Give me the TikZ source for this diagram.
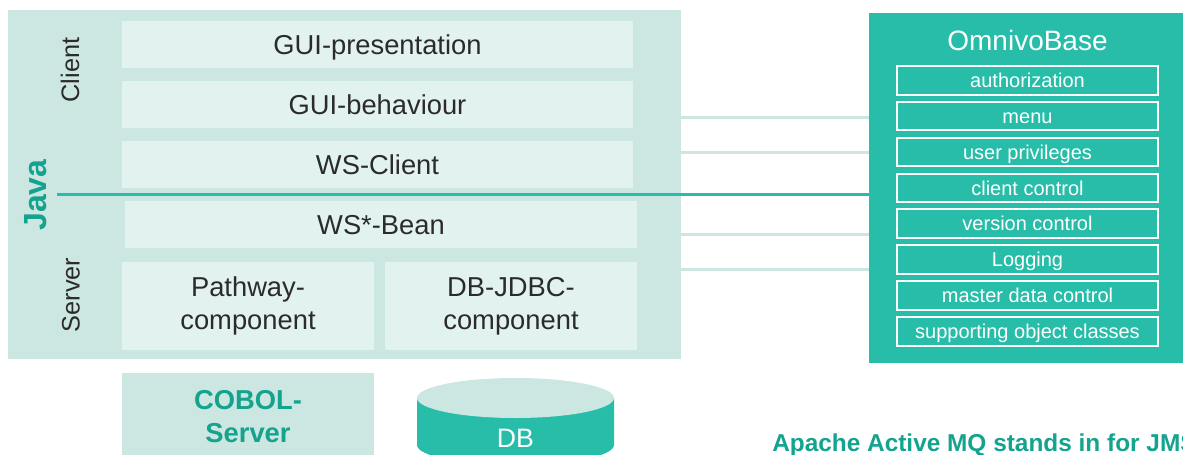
\documentclass[tikz,border=0pt]{standalone}
\usepackage{fontspec}
\setmainfont{Liberation Sans}
\usepackage{xcolor}
\usetikzlibrary{fit}
\definecolor{mintbg}{HTML}{CCE7E1}
\definecolor{partbg}{HTML}{E2F2EF}
\definecolor{teal}{HTML}{27BDA9}
\definecolor{darkteal}{HTML}{14A38E}
\definecolor{partfg}{HTML}{2B2B2B}

\begin{document}
\begin{tikzpicture}[x=0.75pt,y=-0.75pt,
  layer/.style={fill=mintbg,inner sep=0pt},
  part/.style={fill=partbg,inner sep=0pt},
  parttext/.style={text=partfg,align=center,inner sep=0pt,
    font=\fontsize{20.5}{25}\selectfont},
  oneline/.style={text height=14.8pt,text depth=0pt},
  side/.style={rotate=90,text=partfg,font=\fontsize{19}{22}\selectfont},
  item/.style={draw=white,line width=1.5pt,inner sep=0pt},
  itemtext/.style={text=white,inner sep=0pt,text height=10.8pt,text depth=0pt,
    font=\fontsize{15}{17}\selectfont},
  link/.style={mintbg,line width=2.25pt},
  javaline/.style={teal,line width=2.25pt}]
\clip (0,0) rectangle (1183,454);
% java box
\node[layer,fit={(8,10) (681,359)}] (jvm) {};
\node[part,fit={(122,21) (633,68)},label={[parttext,oneline]center:GUI-presentation}] (guipres) {};
\node[part,fit={(122,81) (633,128)},label={[parttext,oneline]center:GUI-behaviour}] (guibeh) {};
\node[part,fit={(122,141) (633,188)},label={[parttext,oneline]center:WS-Client}] (wsclient) {};
\node[part,fit={(125,201) (637,248)},label={[parttext,oneline]center:WS*-Bean}] (wsbean) {};
\node[part,fit={(122,262) (374,350)},label={[parttext]center:Pathway-\\component}] (pathway) {};
\node[part,fit={(385,262) (637,350)},label={[parttext]center:DB-JDBC-\\component}] (jdbc) {};
\node[side] (client) at (70,70) {Client};
\node[side] (server) at (71,295) {Server};
\node[rotate=90,text=darkteal,font=\fontsize{24}{28}\selectfont\bfseries] (javalabel) at (36,195) {Java};
% backends
\node[layer,fit={(122,373) (374,460)},
  label={[parttext,text=darkteal,font=\fontsize{20.5}{25}\selectfont\bfseries]center:COBOL-\\Server}] (cobol) {};
\fill[teal] (417,398) -- (417,445) arc (180:0:98.5 and 20) -- (614,398) -- cycle;
\fill[mintbg] (515.5,398) ellipse (98.5 and 20);
\node[text=white,font=\fontsize{20}{24}\selectfont] (db) at (515.5,438) {DB};
% omnivobase
\node[fill=teal,inner sep=0pt,fit={(869,13) (1190,363)}] (omni) {};
\node[anchor=base,text=white,font=\fontsize{21}{25}\selectfont] (omnititle) at (1027.5,50) {OmnivoBase};
\foreach \t [count=\i from 0] in {authorization,menu,user privileges,client control,
    version control,Logging,master data control,supporting object classes}
  \node[item,fit={(897,{66+35.86*\i}) (1158,{94.5+35.86*\i})},
    label={[itemtext]center:\t}] (ob\i) {};
% connectors
\foreach \y in {117,152,234,269}
  \draw[link] (jvm.east |- 0,\y) -- (omni.west |- 0,\y);
\coordinate (javastart) at (57,194);
\draw[javaline] (javastart) -- (javastart -| omni.west);
\node[anchor=base west,inner sep=0pt,text=darkteal,font=\fontsize{18.3}{22}\selectfont\bfseries] (mqnote) at (772,451) {Apache Active MQ stands in for JMS};
\end{tikzpicture}
\end{document}
